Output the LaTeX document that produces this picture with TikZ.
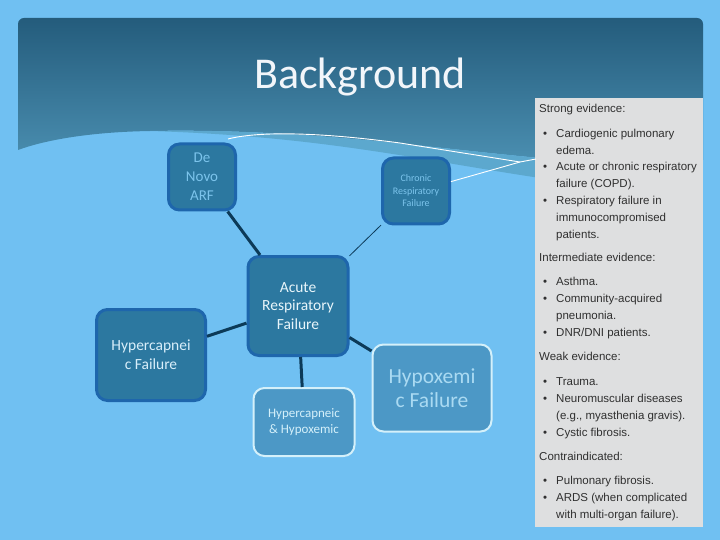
\documentclass[tikz,border=0pt]{standalone}
\usepackage{fontspec}
\setmainfont{Carlito}
\newfontfamily\evfont{Liberation Sans}
\usetikzlibrary{positioning}
\definecolor{skybg}{RGB}{112,192,242}
\definecolor{panelTop}{RGB}{36,92,124}
\definecolor{panelBot}{RGB}{74,142,176}
\definecolor{waveband}{RGB}{92,168,206}
\definecolor{deepfill}{RGB}{44,120,160}
\definecolor{deepline}{RGB}{30,102,172}
\definecolor{palefill}{RGB}{76,152,198}
\definecolor{paleline}{RGB}{212,240,250}
\definecolor{softtext}{RGB}{124,196,236}
\definecolor{linkcol}{RGB}{12,58,88}
\definecolor{evgrey}{RGB}{222,223,224}
\definecolor{evtext}{RGB}{48,48,48}
\newcommand\evbul{\makebox[17pt][l]{\hspace{4pt}\textbullet}}
\newcommand\evind{\hspace*{17pt}}

\begin{document}
\begin{tikzpicture}[x=1pt,y=-1pt,
   deepbox/.style={draw=deepline,line width=3pt,fill=deepfill,rounded corners=11pt,align=center,inner sep=0pt},
   palebox/.style={draw=paleline,line width=2pt,fill=palefill,rounded corners=11pt,align=center,inner sep=0pt,text=paleline},
   link/.style={draw=linkcol,line width=3pt},
   wline/.style={draw=white,line width=0.9pt}]
  \useasboundingbox[fill=skybg] (0,0) rectangle (720,540);
  % header panel and wave
  \shade[top color=panelTop,bottom color=panelBot]
    (18,150) [rounded corners=6pt] -- (18,18) -- (703,18) [sharp corners] -- (703,160) -- (540,158)
    .. controls (430,148) and (300,128) .. (150,131) .. controls (90,132) and (45,140) .. (18,150) -- cycle;
  \fill[waveband] (150,131) .. controls (300,128) and (430,148) .. (540,158) -- (540,178)
    .. controls (420,160) and (320,136) .. (150,131) -- cycle;
  \node[text={rgb,255:red,242;green,246;blue,250},font=\fontsize{44}{44}\selectfont] (title) at (360,77) {Background};

  \node[deepbox,minimum width=67,minimum height=66,text=softtext,font=\fontsize{15}{19}\selectfont] (denovo) at (202,177) {De\\Novo\\ARF};
  \node[deepbox,minimum width=67,minimum height=66,text=softtext,font=\fontsize{10}{12.5}\selectfont] (chronic) at (416,191) {Chronic\\Respiratory\\Failure};
  \node[deepbox,minimum width=100,minimum height=99,text={rgb,255:red,232;green,245;blue,250},font=\fontsize{15.5}{18.5}\selectfont] (acute) at (298,306) {Acute\\Respiratory\\Failure};
  \node[deepbox,minimum width=109,minimum height=91,text={rgb,255:red,216;green,238;blue,250},font=\fontsize{15.5}{19}\selectfont] (hypercap) at (151,355) {Hypercapnei\\c Failure};
  \node[palebox,minimum width=101,minimum height=68,font=\fontsize{13}{16}\selectfont] (both) at (304,422) {Hypercapneic\\\& Hypoxemic};
  \node[palebox,minimum width=119,minimum height=87,text={rgb,255:red,170;green,218;blue,242},font=\fontsize{21.5}{24.5}\selectfont] (hypox) at (432,388) {Hypoxemi\\c Failure};

  \draw[link] (denovo) -- (acute);
  \draw[linkcol,line width=0.8pt] (chronic) -- (acute);
  \draw[link] (hypercap) -- (acute);
  \draw[link] (acute) -- (both);
  \draw[link] (acute) -- (hypox);

  % evidence box
  \node[fill=evgrey,minimum width=168,minimum height=429,anchor=north west,inner sep=0pt] (evid) at (535,98) {};
  \node[anchor=north west,inner sep=0pt,align=left,text=evtext,font=\evfont\fontsize{11.5}{16.8}\selectfont] (evtxt) at (539,104) {%
    Strong evidence:\\[8pt]
    \evbul Cardiogenic pulmonary\\
    \evind edema.\\
    \evbul Acute or chronic respiratory\\
    \evind failure (COPD).\\
    \evbul Respiratory failure in\\
    \evind immunocompromised\\
    \evind patients.\\[7pt]
    Intermediate evidence:\\[7pt]
    \evbul Asthma.\\
    \evbul Community-acquired\\
    \evind pneumonia.\\
    \evbul DNR/DNI patients.\\[8pt]
    Weak evidence:\\[8pt]
    \evbul Trauma.\\
    \evbul Neuromuscular diseases\\
    \evind (e.g., myasthenia gravis).\\
    \evbul Cystic fibrosis.\\[8pt]
    Contraindicated:\\[7pt]
    \evbul Pulmonary fibrosis.\\
    \evbul ARDS (when complicated\\
    \evind with multi-organ failure).};

  \coordinate (wstart) at (228,139);
  \coordinate (fork) at (520,162);
  \coordinate (tip) at (536,159);
  \draw[wline] (wstart) .. controls (255,132) and (310,131) .. (400,143) -- (fork) -- (tip);
  \draw[wline] (chronic.15) -- (fork);
\end{tikzpicture}
\end{document}
